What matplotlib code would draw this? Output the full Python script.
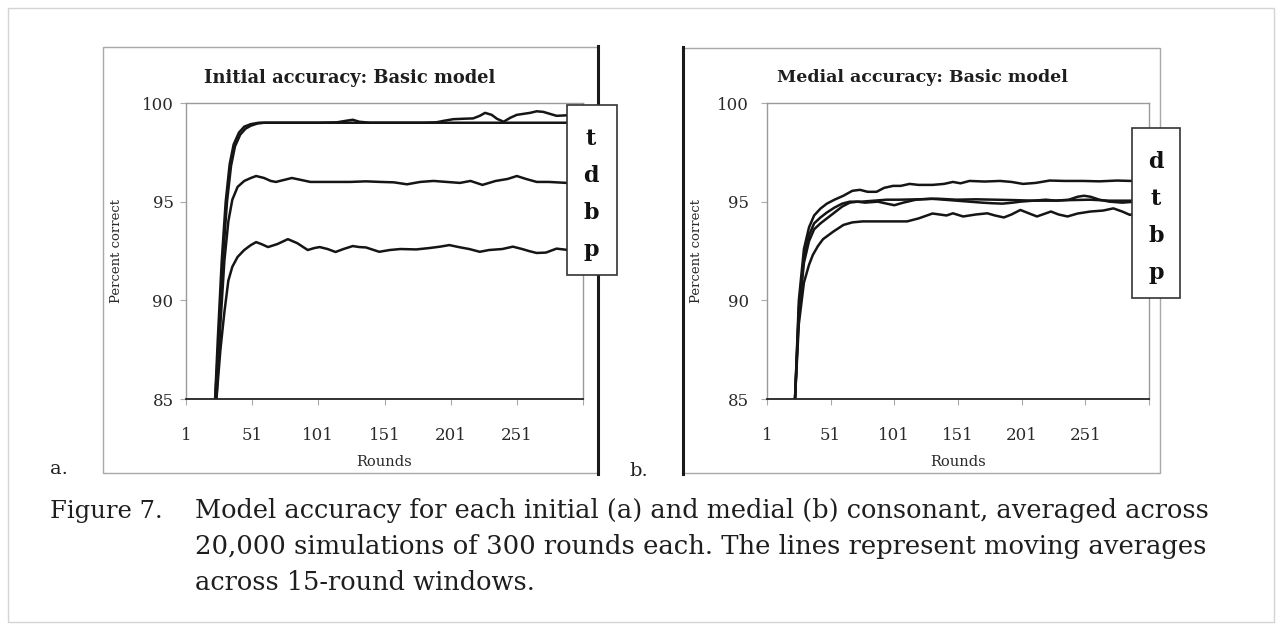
import matplotlib
matplotlib.use('Agg')
import matplotlib.pyplot as plt
from matplotlib.patches import Rectangle
from matplotlib.lines import Line2D

W, H = 1282, 630

# Initial accuracy (panel a)
init_t_rounds = [23, 26, 29, 32, 35, 38, 42, 46, 50, 55, 60, 80, 100, 115, 122, 127, 132, 140, 160, 180,
                 190, 196, 203, 210, 218, 223, 227, 232, 236, 241, 246, 251, 256, 261, 266, 271, 276, 281, 290, 300]
init_t = [85.0, 88.3, 92.2, 95.0, 96.8, 97.8, 98.4, 98.7, 98.85, 98.96, 99.0, 99.0, 99.0, 99.02, 99.1, 99.15, 99.05, 99.0, 99.0, 99.0,
          99.02, 99.1, 99.18, 99.2, 99.22, 99.35, 99.5, 99.4, 99.2, 99.05, 99.25, 99.4, 99.45, 99.5, 99.58, 99.55, 99.45, 99.35, 99.38, 99.35]
init_d_rounds = [23, 25, 28, 31, 34, 37, 41, 45, 50, 56, 300]
init_d = [85.0, 88.0, 92.0, 95.0, 96.9, 97.9, 98.5, 98.8, 98.93, 99.0, 99.0]
init_b_rounds = [24, 27, 30, 33, 36, 40, 45, 50, 54, 60, 65, 69, 75, 81, 88, 95, 110, 125, 137, 148,
                 158, 168, 178, 188, 198, 208, 216, 225, 235, 244, 251, 258, 266, 275, 289, 300]
init_b = [85.0, 88.8, 92.0, 94.0, 95.1, 95.75, 96.05, 96.2, 96.3, 96.2, 96.05, 96.0, 96.1, 96.2, 96.1, 96.0, 96.0, 96.0, 96.03, 96.0,
          95.98, 95.88, 96.0, 96.05, 96.0, 95.95, 96.05, 95.85, 96.05, 96.15, 96.3, 96.15, 96.0, 96.0, 95.95, 95.95]
init_p_rounds = [24, 27, 30, 33, 36, 40, 45, 50, 54, 58, 63, 70, 78, 85, 93, 98, 102, 108, 114, 120,
                 127, 132, 137, 147, 155, 163, 175, 185, 193, 200, 207, 215, 223, 230, 240, 248, 255, 260, 266, 273,
                 281, 290, 300]
init_p = [85.0, 87.5, 89.4, 91.0, 91.7, 92.2, 92.55, 92.8, 92.95, 92.85, 92.7, 92.85, 93.1, 92.9, 92.55, 92.65, 92.7, 92.6, 92.45, 92.6,
          92.75, 92.7, 92.68, 92.46, 92.55, 92.6, 92.58, 92.65, 92.72, 92.8, 92.7, 92.6, 92.46, 92.55, 92.6, 92.72, 92.6, 92.5, 92.4, 92.42,
          92.62, 92.55, 92.55]

# Medial accuracy (panel b)
med_d_rounds = [23, 26, 30, 34, 38, 43, 48, 54, 61, 68, 74, 80, 87, 93, 100, 106, 113, 120, 131, 140,
                147, 153, 160, 172, 184, 193, 202, 212, 223, 235, 249, 262, 276, 287, 300]
med_d = [85.0, 90.0, 92.6, 93.7, 94.3, 94.65, 94.9, 95.1, 95.3, 95.55, 95.6, 95.5, 95.5, 95.7, 95.8, 95.8, 95.9, 95.85, 95.85, 95.9,
         96.0, 95.93, 96.05, 96.02, 96.05, 96.0, 95.9, 95.95, 96.07, 96.05, 96.05, 96.03, 96.07, 96.05, 96.05]
med_t_rounds = [23, 26, 30, 34, 38, 43, 48, 54, 60, 66, 75, 85, 95, 105, 120, 135, 150, 165, 180, 195,
                210, 225, 240, 255, 270, 285, 300]
med_t = [85.0, 89.6, 92.2, 93.3, 93.9, 94.2, 94.45, 94.7, 94.9, 95.0, 95.0, 95.05, 95.1, 95.1, 95.12, 95.15, 95.1, 95.12, 95.1, 95.08,
         95.05, 95.05, 95.08, 95.1, 95.05, 95.05, 95.05]
med_b_rounds = [23, 26, 30, 34, 38, 43, 48, 54, 60, 66, 72, 78, 88, 95, 101, 108, 118, 130, 140, 150,
                160, 170, 178, 186, 194, 200, 210, 220, 228, 238, 245, 250, 255, 262, 270, 280, 290, 300]
med_b = [85.0, 89.3, 91.9, 93.0, 93.6, 93.9, 94.15, 94.45, 94.75, 94.95, 95.0, 94.95, 95.0, 94.9, 94.82, 94.95, 95.1, 95.15, 95.1, 95.05,
         95.0, 94.95, 94.92, 94.9, 94.95, 95.0, 95.05, 95.1, 95.05, 95.1, 95.25, 95.3, 95.25, 95.1, 95.0, 94.95, 95.0, 95.0]
med_p_rounds = [23, 26, 30, 34, 37, 41, 45, 53, 61, 68, 76, 90, 100, 111, 120, 131, 142, 147, 155, 165,
                174, 180, 187, 193, 200, 207, 213, 224, 230, 237, 245, 255, 265, 273, 280, 286, 293, 300]
med_p = [85.0, 88.8, 90.9, 91.8, 92.3, 92.75, 93.1, 93.48, 93.82, 93.95, 94.0, 94.0, 94.0, 94.0, 94.15, 94.4, 94.3, 94.41, 94.25, 94.35,
         94.41, 94.3, 94.2, 94.35, 94.58, 94.4, 94.25, 94.5, 94.35, 94.25, 94.4, 94.5, 94.55, 94.66, 94.5, 94.33, 94.45, 94.45]

x_ticks = [1, 51, 101, 151, 201, 251, 301]
x_labels = ['1', '51', '101', '151', '201', '251', '']
y_ticks = [85, 90, 95, 100]

init_order = ['t', 'd', 'b', 'p']
med_order = ['d', 't', 'b', 'p']

caption_head = 'Figure 7.'
caption_lines = ['Model accuracy for each initial (a) and medial (b) consonant, averaged across',
                 '20,000 simulations of 300 rounds each. The lines represent moving averages',
                 'across 15-round windows.']

plt.rcParams['font.family'] = 'DejaVu Serif'
fig = plt.figure(figsize=(W / 100, H / 100), dpi=100)
renderer = fig.canvas.get_renderer()


def fx(px):
    return px / W


def fy(py):
    return 1 - py / H


def fit_width(t, target):
    w = t.get_window_extent(renderer).width
    t.set_fontsize(t.get_fontsize() * target / w)


def line(x0, y0, x1, y1, **kw):
    fig.add_artist(Line2D([fx(x0), fx(x1)], [fy(y0), fy(y1)], transform=fig.transFigure, **kw))


def panel(left, right, series, title, title_x, ylab_x, ytick_pad):
    ax = fig.add_axes([fx(left), fy(399), fx(right) - fx(left), fy(103) - fy(399)])
    for rounds, vals in series:
        ax.plot(rounds, vals, color='#151515', lw=1.8, solid_joinstyle='round', solid_capstyle='round')
    ax.set_xlim(1, 301)
    ax.set_ylim(85, 100)
    ax.set_xticks(x_ticks)
    ax.set_xticklabels(x_labels)
    ax.set_yticks(y_ticks)
    for s in ['left', 'top', 'right']:
        ax.spines[s].set_color('#9a9a9a')
        ax.spines[s].set_linewidth(1.0)
    ax.spines['bottom'].set_color('#222222')
    ax.spines['bottom'].set_linewidth(1.3)
    ax.tick_params(axis='x', length=4, width=0.8, color='#aaaaaa', pad=16, labelsize=12, labelcolor='#2a2a2a')
    ax.tick_params(axis='y', length=4, width=0.8, color='#aaaaaa', pad=ytick_pad, labelsize=12, labelcolor='#2a2a2a')
    ax.set_xlabel('Rounds', fontsize=10.5, color='#2a2a2a')
    ax.xaxis.set_label_coords(0.5, -0.19)
    ax.set_ylabel('Percent correct', fontsize=9.5, color='#2a2a2a')
    ax.yaxis.set_label_coords((ylab_x - left) / (right - left), 0.5)
    t = fig.text(fx(title_x), fy(78), title, ha='center', va='center', fontweight='bold', fontsize=12, color='#1e1e1e')
    fit_width(t, 290)
    return ax


panel(186, 583, [(init_t_rounds, init_t), (init_d_rounds, init_d), (init_b_rounds, init_b), (init_p_rounds, init_p)],
      'Initial accuracy: Basic model', 350, 123, 5)
panel(767, 1149, [(med_d_rounds, med_d), (med_t_rounds, med_t), (med_b_rounds, med_b), (med_p_rounds, med_p)],
      'Medial accuracy: Basic model', 922, 703, 9)

# outer frames of the two panels
fig.add_artist(Rectangle((fx(103), fy(473)), fx(598) - fx(103), fy(47) - fy(473), transform=fig.transFigure,
                         facecolor='none', edgecolor='#a8a8a8', lw=1.0, zorder=-1))
line(598, 46, 598, 474, color='#1a1a1a', lw=2.2)
fig.add_artist(Rectangle((fx(683), fy(473)), fx(1160) - fx(683), fy(48) - fy(473), transform=fig.transFigure,
                         facecolor='none', edgecolor='#a8a8a8', lw=1.0, zorder=-1))
line(683, 47, 683, 474, color='#1a1a1a', lw=2.2)

# legend boxes with letter labels
for (x0, x1, y0, y1, letters, xc, base0) in [(567, 617, 105, 275, init_order, 591, 145),
                                             (1132, 1180, 128, 298, med_order, 1156, 168)]:
    fig.add_artist(Rectangle((fx(x0), fy(y1)), fx(x1) - fx(x0), fy(y0) - fy(y1), transform=fig.transFigure,
                             facecolor='white', edgecolor='#333333', lw=1.2, zorder=10))
    for i, ch in enumerate(letters):
        fig.text(fx(xc), fy(base0 + 37 * i), ch, ha='center', va='baseline', fontsize=16, fontweight='bold',
                 color='#111111', zorder=11)

fig.text(fx(50), fy(474), 'a.', ha='left', va='baseline', fontsize=14, color='#222222')
fig.text(fx(629), fy(476), 'b.', ha='left', va='baseline', fontsize=14, color='#222222')

# caption, first two lines justified to the same right edge
fig.text(fx(50), fy(518), caption_head, ha='left', va='baseline', fontsize=17.5, color='#1e1e1e')
size = None
for i, txt in enumerate(caption_lines):
    t = fig.text(fx(195), fy(518 + 36 * i), txt, ha='left', va='baseline', fontsize=size or 17, color='#1e1e1e')
    if i < 2:
        fit_width(t, 1013)
        size = size or t.get_fontsize()

# faint border of the page snippet
fig.add_artist(Rectangle((fx(8), fy(622)), fx(1274) - fx(8), fy(8) - fy(622), transform=fig.transFigure,
                         facecolor='none', edgecolor='#d4d4d4', lw=1.0, zorder=-2))

fig.savefig('out.png', dpi=100)
